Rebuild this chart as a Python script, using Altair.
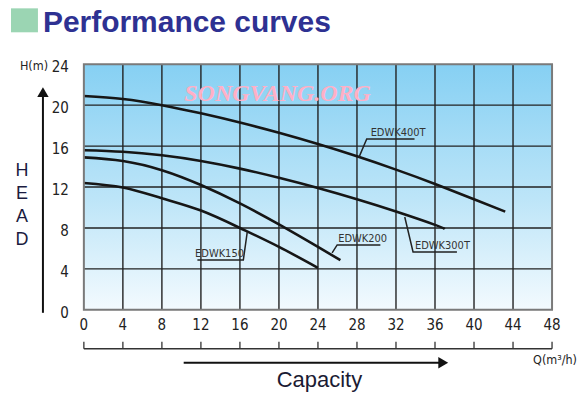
import altair as alt
import pandas as pd

# ---------------- data ----------------
q400 = [0, 4, 8, 12, 16, 20, 24, 28, 32, 36, 40, 43.2]
h400 = [20.9, 20.6, 20.0, 19.2, 18.3, 17.3, 16.2, 15.0, 13.7, 12.3, 10.8, 9.6]
q300 = [0, 4, 8, 12, 16, 20, 24, 28, 32, 36, 37]
h300 = [15.6, 15.45, 15.1, 14.55, 13.8, 12.9, 11.9, 10.8, 9.6, 8.3, 7.9]
q200 = [0, 4, 8, 12, 16, 20, 24, 26.3]
h200 = [14.9, 14.55, 13.65, 12.2, 10.4, 8.35, 6.15, 4.85]
q150 = [0, 4, 8, 12, 16, 20, 24]
h150 = [12.4, 11.95, 10.9, 9.7, 8.0, 6.15, 4.1]

models = ["EDWK400T", "EDWK300T", "EDWK200", "EDWK150"]
x_ticks = list(range(0, 49, 4))
y_ticks = list(range(0, 25, 4))

# label leader lines: curve point -> elbow -> end (data units)
lead_q = [[28.2, 29.0, 33.9], [32.9, 33.75, 38.25], [25.45, 25.97, 30.4], [16.75, 16.35, 11.64]]
lead_h = [[14.9, 16.7, 16.7], [9.07, 5.66, 5.66], [5.56, 6.34, 6.34], [7.6, 4.88, 4.88]]
label_q = [29.4, 33.95, 26.07, 11.4]

W, H = 469, 246
XS = alt.Scale(domain=[0, 48], nice=False, zero=False)
YS = alt.Scale(domain=[0, 24], nice=False, zero=False)
COND = "DejaVu Sans Condensed, Liberation Sans, sans-serif"

# ---------------- tables ----------------
curves = pd.concat([
    pd.DataFrame({"q": q, "h": h, "model": m, "i": range(len(q))})
    for q, h, m in zip([q400, q300, q200, q150], [h400, h300, h200, h150], models)
])
leaders = pd.concat([
    pd.DataFrame({"q": lq, "h": lh, "model": m, "i": range(3)})
    for lq, lh, m in zip(lead_q, lead_h, models)
])
labels = pd.DataFrame({"q": label_q, "h": [lh[2] for lh in lead_h], "model": models})
xgrid = pd.DataFrame({"v": x_ticks[1:-1]})
ygrid = pd.DataFrame({"v": y_ticks[1:-1]})
xt = pd.DataFrame({"v": x_ticks})
yt = pd.DataFrame({"v": y_ticks})
one = pd.DataFrame({"a": [0]})


def X(field):
    return alt.X(field, scale=XS, axis=None)


def Y(field):
    return alt.Y(field, scale=YS, axis=None)


# ---------------- layers ----------------
grad = alt.LinearGradient(
    gradient="linear", x1=0, x2=0, y1=0, y2=1,
    stops=[alt.GradientStop(color="#86d0f3", offset=0),
           alt.GradientStop(color="#bde5f8", offset=0.55),
           alt.GradientStop(color="#f3fafe", offset=1)])

bg = alt.Chart(one).mark_rect(color=grad).encode(
    x=alt.value(0), x2=alt.value(W), y=alt.value(0), y2=alt.value(H))

# tick labels drawn through the scales
xlab = alt.Chart(xt).mark_text(font=COND, fontSize=15, color="#222", align="center",
                               baseline="middle").encode(
    x=X("v:Q"), y=alt.value(H + 15), text="v:Q")
ylab = alt.Chart(yt).mark_text(font=COND, fontSize=15, color="#222", align="right",
                               baseline="middle", dy=3).encode(
    y=Y("v:Q"), x=alt.value(-15), text="v:Q")

vgrid = alt.Chart(xgrid).mark_rule(color="#222", strokeWidth=1.4).encode(
    x=X("v:Q"), y=alt.value(0), y2=alt.value(H))
hgrid = alt.Chart(ygrid).mark_rule(color="#222", strokeWidth=1.4).encode(
    y=Y("v:Q"), x=alt.value(0), x2=alt.value(W))

lines = alt.Chart(curves).mark_line(color="#161616", strokeWidth=2.6, interpolate="natural").encode(
    x=X("q:Q"), y=Y("h:Q"), detail="model:N", order="i:Q")

lead = alt.Chart(leaders).mark_line(color="#222", strokeWidth=1.5).encode(
    x=X("q:Q"), y=Y("h:Q"), detail="model:N", order="i:Q")

lab = alt.Chart(labels).mark_text(align="left", baseline="bottom", dy=-1, font=COND,
                                  fontSize=11, color="#333").encode(
    x=X("q:Q"), y=Y("h:Q"), text="model:N")

water = alt.Chart(one).mark_text(text="SONGVANG.ORG", font="Liberation Serif", fontSize=24,
                                 fontStyle="italic", fontWeight="bold", color="#ffb0c6",
                                 align="center", baseline="alphabetic").encode(
    x=alt.value(194), y=alt.value(37))

border = alt.Chart(one).mark_rect(filled=False, stroke="#7a7a7a", strokeWidth=2).encode(
    x=alt.value(0), x2=alt.value(W), y=alt.value(0), y2=alt.value(H))

# secondary bracket scale under the x labels
brk_line = alt.Chart(one).mark_rule(color="#333", strokeWidth=1.3).encode(
    x=alt.value(0), x2=alt.value(W), y=alt.value(285))
brk_ticks = alt.Chart(xt).mark_rule(color="#333", strokeWidth=1.3).encode(
    x=X("v:Q"), y=alt.value(278), y2=alt.value(285))

# arrows
cap_arrow = alt.Chart(one).mark_rule(color="#111", strokeWidth=2).encode(
    x=alt.value(100), x2=alt.value(358), y=alt.value(299))
cap_head = alt.Chart(one).mark_point(shape="triangle-right", filled=True, color="#111",
                                     size=130, opacity=1).encode(x=alt.value(360), y=alt.value(299))
head_arrow = alt.Chart(one).mark_rule(color="#111", strokeWidth=2).encode(
    x=alt.value(-41), y=alt.value(249), y2=alt.value(30))
head_head = alt.Chart(one).mark_point(shape="triangle-up", filled=True, color="#111",
                                      size=130, opacity=1).encode(x=alt.value(-41), y=alt.value(28))

# texts
capacity = alt.Chart(one).mark_text(text="Capacity", font="Liberation Sans", fontSize=22,
                                    color="#1b1b33", align="center", baseline="middle").encode(
    x=alt.value(236), y=alt.value(316))
qunit = alt.Chart(one).mark_text(text="Q(m³/h)", font=COND, fontSize=12.5, color="#222",
                                 align="center", baseline="middle").encode(
    x=alt.value(472), y=alt.value(296))
hunit = alt.Chart(one).mark_text(text="H(m)", font=COND, fontSize=12.5, color="#222",
                                 align="center", baseline="middle").encode(
    x=alt.value(-50), y=alt.value(2))
head_txt = alt.Chart(one).mark_text(text="H\nE\nA\nD", lineBreak="\n", lineHeight=23,
                                    font="Liberation Sans", fontSize=18, color="#1b1b40",
                                    align="center", baseline="middle").encode(
    x=alt.value(-62), y=alt.value(107))

title_box = alt.Chart(one).mark_rect(color="#9bd5b3").encode(
    x=alt.value(-73), x2=alt.value(-46), y=alt.value(-56), y2=alt.value(-32))
title_txt = alt.Chart(one).mark_text(text="Performance curves", font="Liberation Sans",
                                     fontSize=30, fontWeight="bold", color="#2e3192",
                                     align="left", baseline="alphabetic").encode(
    x=alt.value(-41), y=alt.value(-32))

chart = alt.layer(
    bg, vgrid, hgrid, xlab, ylab, lines, lead, lab, water, border,
    brk_line, brk_ticks, cap_arrow, cap_head, head_arrow, head_head,
    capacity, qunit, hunit, head_txt, title_box, title_txt,
).properties(
    width=W, height=H,
    autosize=alt.AutoSizeParams(type="none"),
    padding={"left": 76, "top": 56, "right": 25, "bottom": 86},
).configure_view(stroke=None)

chart.save("out.html", embed_options={"renderer": "svg", "actions": False})
